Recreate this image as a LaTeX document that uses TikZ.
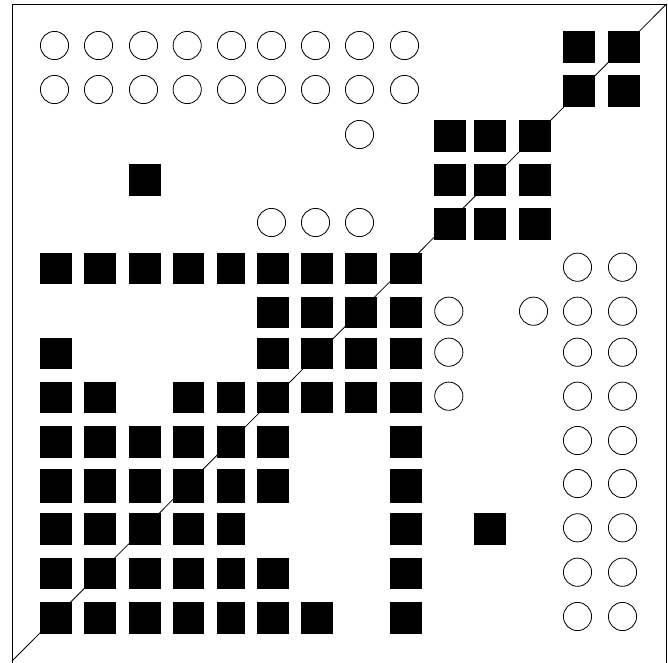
\documentclass[tikz,border=0pt]{standalone}
\begin{document}
\begin{tikzpicture}[x=1pt,y=-1pt,
  frame/.style={draw=black,line width=0.8pt},
  diag/.style={draw=black,line width=0.8pt},
  sq/.style={rectangle,fill=black,draw=none,inner sep=0pt,outer sep=0pt,anchor=north west},
  circ/.style={circle,draw=black,fill=white,line width=0.8pt,inner sep=0pt,minimum size=28.2pt}]
\useasboundingbox (0,0) rectangle (668,662);
\def\colX{{40,84,129,172.7,217,257,301,345,390,434.3,474,519,563,608}}
\def\rowY{{31,75,120,164,208,252.7,296.7,337.7,381.7,426,469,513.3,557.7,602}}
% frame and diagonal
\coordinate (tl) at (12,4);
\coordinate (br) at (666.5,664);
\coordinate (dl) at (12,661);
\coordinate (dr) at (666.5,4);
\draw[frame] (tl) rectangle (br);
\draw[diag] (dl) -- (dr);
% filled squares
\foreach \r/\cols in {1/{13,14},2/{13,14},3/{10,11,12},4/{3,10,11,12},5/{10,11,12},
  6/{1,2,3,4,5,6,7,8,9},7/{6,7,8,9},8/{1,6,7,8,9},9/{1,2,4,5,6,7,8,9},
  10/{1,2,3,4,5,6,9},11/{1,2,3,4,5,6,9},12/{1,2,3,4,5,9,11},13/{1,2,3,4,5,6,9},
  14/{1,2,3,4,5,6,7,9}}{
  \foreach \c in \cols {
    \pgfmathsetmacro{\xx}{\colX[\c-1]}
    \pgfmathsetmacro{\yy}{\rowY[\r-1]}
    \pgfmathsetmacro{\ww}{\c==5 ? 28 : 31.7}
    \pgfmathsetmacro{\hh}{\r==11 ? 33.7 : 31.7}
    \node[sq,minimum width=\ww pt,minimum height=\hh pt] (s\r-\c) at (\xx,\yy) {};
  }
}
% open circles
\foreach \r/\cols in {1/{1,2,3,4,5,6,7,8,9},2/{1,2,3,4,5,6,7,8,9},3/{8},5/{6,7,8},
  6/{13,14},7/{10,12,13,14},8/{10,13,14},9/{10,13,14},10/{13,14},11/{13,14},
  12/{13,14},13/{13,14},14/{13,14}}{
  \foreach \c in \cols {
    \pgfmathsetmacro{\xx}{\colX[\c-1]+14.5}
    \pgfmathsetmacro{\yy}{\rowY[\r-1]+14.5}
    \node[circ] (c\r-\c) at (\xx,\yy) {};
  }
}
\end{tikzpicture}
\end{document}
